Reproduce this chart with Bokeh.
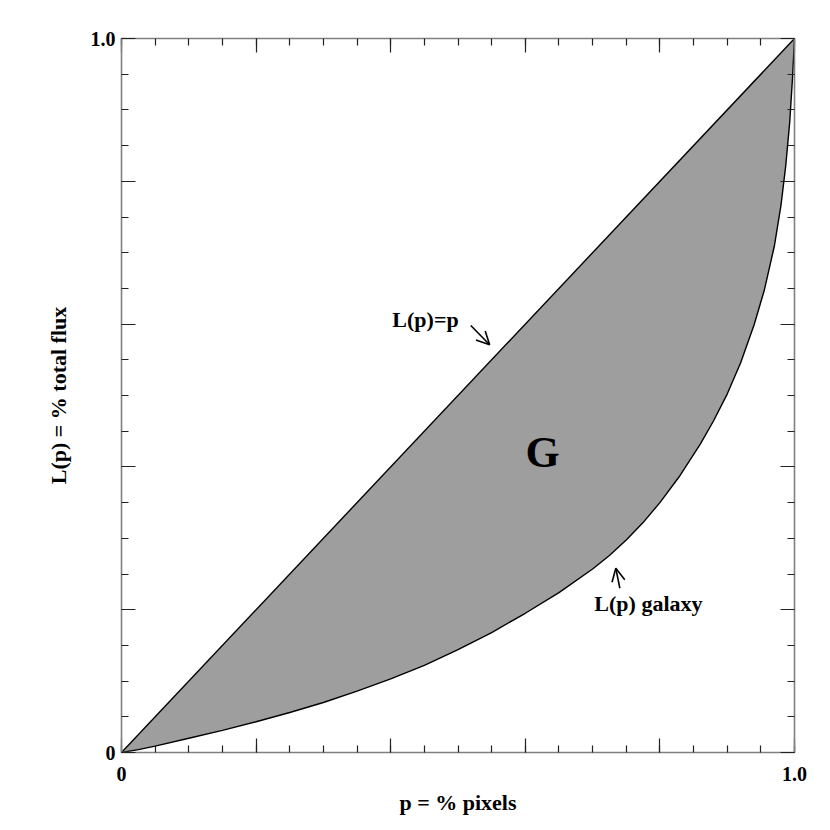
from bokeh.plotting import figure
from bokeh.models import Range1d, LinearAxis, FixedTicker, Arrow, OpenHead, Label
from bokeh.embed import file_html
from bokeh.resources import INLINE

# Lorenz curve
p_vals = [0.0, 0.025, 0.05, 0.10, 0.15, 0.20, 0.25, 0.30, 0.35, 0.40, 0.45, 0.50, 0.55,
          0.60, 0.65, 0.70, 0.725, 0.75, 0.775, 0.80, 0.83, 0.86, 0.88, 0.90, 0.92, 0.94,
          0.955, 0.97, 0.98, 0.987, 0.993, 0.997, 1.0]
L_vals = [0.0, 0.004, 0.009, 0.020, 0.031, 0.043, 0.056, 0.070, 0.086, 0.103, 0.122, 0.144,
          0.168, 0.195, 0.224, 0.257, 0.276, 0.2975, 0.322, 0.350, 0.388, 0.432, 0.465,
          0.502, 0.546, 0.599, 0.647, 0.709, 0.767, 0.822, 0.884, 0.944, 1.0]
diag = [0.0, 1.0]

major_ticks = [0.0, 0.2, 0.4, 0.6, 0.8, 1.0]
minor_ticks = [i * 0.05 for i in range(21)]
tick_labels = {0.0: "0", 0.2: "", 0.4: "", 0.6: "", 0.8: "", 1.0: "1.0"}

FONT = "Liberation Serif"
FRAME = "#808080"

fig = figure(width=822, height=822, x_range=Range1d(0, 1), y_range=Range1d(0, 1),
             output_backend="svg", toolbar_location=None, x_axis_location=None,
             y_axis_location=None, min_border_left=121, min_border_right=28,
             min_border_top=38, min_border_bottom=70)
fig.xgrid.visible = False
fig.ygrid.visible = False
fig.outline_line_color = None
fig.background_fill_color = "white"

def make_axis(show_labels, label=""):
    ax = LinearAxis(ticker=FixedTicker(ticks=major_ticks, minor_ticks=minor_ticks))
    ax.axis_line_color = FRAME
    ax.axis_line_width = 1.6
    ax.major_tick_in = 14
    ax.major_tick_out = 0
    ax.minor_tick_in = 7
    ax.minor_tick_out = 0
    ax.major_tick_line_color = "#222222"
    ax.minor_tick_line_color = "#222222"
    ax.major_tick_line_width = 1.2
    ax.minor_tick_line_width = 1.2
    ax.major_label_overrides = tick_labels
    ax.major_label_text_font = FONT
    ax.major_label_text_font_style = "bold"
    ax.major_label_text_font_size = "20px"
    ax.major_label_text_color = "black"
    if not show_labels:
        ax.major_label_text_color = None
    ax.axis_label = label
    ax.axis_label_text_font = FONT
    ax.axis_label_text_font_style = "bold"
    ax.axis_label_text_font_size = "22px"
    ax.axis_label_text_color = "black"
    return ax

xb = make_axis(True, "p = % pixels")
xb.major_label_standoff = 14
xb.axis_label_standoff = 6
yl = make_axis(True, "L(p) = % total flux")
yl.major_label_standoff = 6
yl.axis_label_standoff = 17
xt = make_axis(False)
yr = make_axis(False)
fig.add_layout(xb, "below")
fig.add_layout(yl, "left")
fig.add_layout(xt, "above")
fig.add_layout(yr, "right")

# shaded Gini area between equality line and Lorenz curve
fig.varea(x=p_vals, y1=L_vals, y2=p_vals, fill_color="#9e9e9e")
fig.line(diag, diag, line_color="black", line_width=1.4)
fig.line(p_vals, L_vals, line_color="black", line_width=1.4)

# annotations
fig.add_layout(Arrow(end=OpenHead(size=13, line_width=1.6, line_color="black"),
                     x_start=0.519, y_start=0.598, x_end=0.547, y_end=0.571,
                     line_width=1.6, line_color="black"))
fig.add_layout(Arrow(end=OpenHead(size=13, line_width=1.6, line_color="black"),
                     x_start=0.7405, y_start=0.230, x_end=0.7345, y_end=0.258,
                     line_width=1.6, line_color="black"))
fig.add_layout(Label(x=0.4517, y=0.6064, text="L(p)=p", text_font=FONT,
                     text_font_style="bold", text_font_size="22px", text_color="black",
                     text_align="center", text_baseline="middle"))
fig.add_layout(Label(x=0.783, y=0.2087, text="L(p) galaxy", text_font=FONT,
                     text_font_style="bold", text_font_size="22px", text_color="black",
                     text_align="center", text_baseline="middle"))
fig.add_layout(Label(x=0.6256, y=0.420, text="G", text_font=FONT,
                     text_font_style="bold", text_font_size="44px", text_color="black",
                     text_align="center", text_baseline="middle"))

open("out.html", "w").write(file_html(fig, INLINE))
